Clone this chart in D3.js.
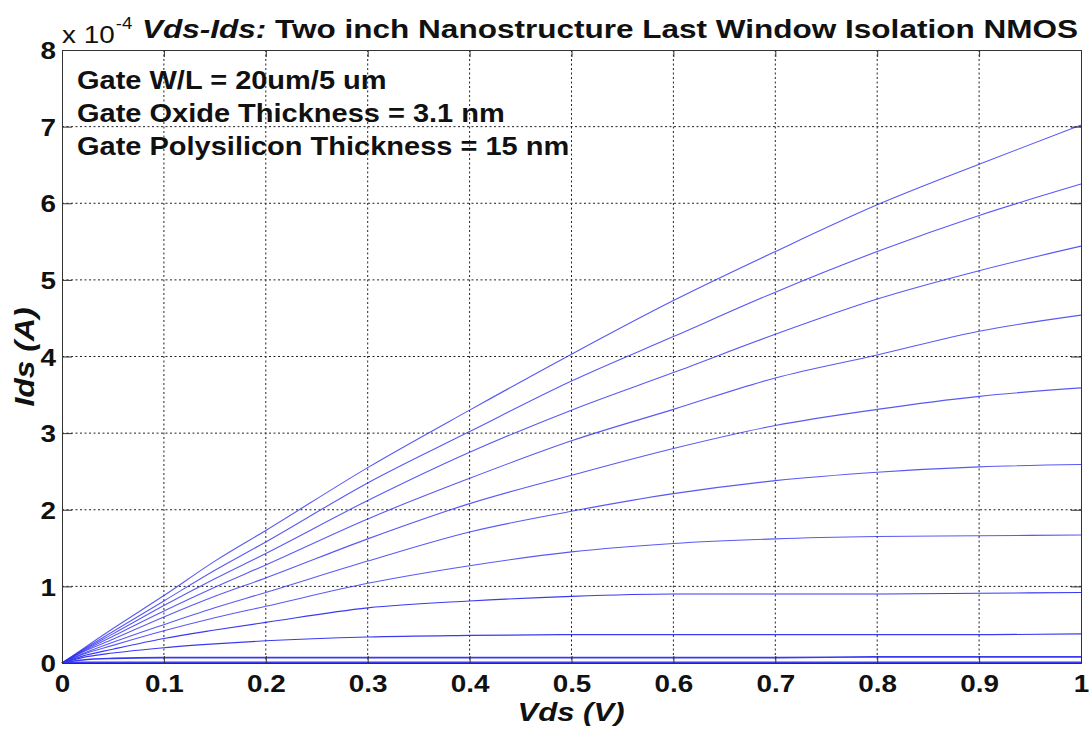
<!DOCTYPE html>
<html>
<head>
<meta charset="utf-8">
<script src="https://cdn.jsdelivr.net/npm/d3@7"></script>
<style>
  body { margin: 0; background: #fff; }
  svg text { font-family: Arial, "Liberation Sans", Helvetica, sans-serif; fill: #111; }
</style>
</head>
<body>
<div id="chart"></div>
<script>
// Vds sweep (V)
const vds = [0, 0.02, 0.05, 0.1, 0.15, 0.2, 0.3, 0.4, 0.5, 0.6, 0.7, 0.8, 0.9, 1.0];

// Ids curves, in units of 1e-4 A, top curve first
const idsCurve1  = [0, 0.18, 0.45, 0.88, 1.33, 1.73, 2.55, 3.30, 4.03, 4.73, 5.37, 5.98, 6.51, 7.02];
const idsCurve2  = [0, 0.17, 0.41, 0.81, 1.21, 1.58, 2.35, 3.02, 3.68, 4.26, 4.84, 5.37, 5.84, 6.25];
const idsCurve3  = [0, 0.16, 0.38, 0.75, 1.10, 1.43, 2.12, 2.75, 3.30, 3.79, 4.29, 4.75, 5.12, 5.44];
const idsCurve4  = [0, 0.15, 0.35, 0.68, 0.99, 1.28, 1.88, 2.41, 2.90, 3.31, 3.72, 4.02, 4.33, 4.54];
const idsCurve5  = [0, 0.14, 0.31, 0.60, 0.87, 1.11, 1.62, 2.08, 2.45, 2.80, 3.10, 3.31, 3.48, 3.59];
const idsCurve6  = [0, 0.12, 0.27, 0.50, 0.72, 0.92, 1.33, 1.71, 1.98, 2.21, 2.38, 2.49, 2.56, 2.59];
const idsCurve7  = [0, 0.11, 0.23, 0.42, 0.59, 0.74, 1.04, 1.27, 1.45, 1.56, 1.62, 1.65, 1.66, 1.67];
const idsCurve8  = [0, 0.09, 0.18, 0.32, 0.43, 0.53, 0.72, 0.81, 0.87, 0.90, 0.90, 0.90, 0.91, 0.92];
const idsCurve9  = [0, 0.07, 0.13, 0.20, 0.25, 0.29, 0.34, 0.36, 0.37, 0.37, 0.37, 0.37, 0.37, 0.38];
const idsCurve10 = [0, 0.04, 0.06, 0.07, 0.07, 0.07, 0.07, 0.07, 0.07, 0.07, 0.07, 0.08, 0.08, 0.08];
const idsCurve11 = [0, 0.01, 0.01, 0.01, 0.01, 0.01, 0.01, 0.01, 0.01, 0.01, 0.01, 0.01, 0.01, 0.01];
const curves = [idsCurve1, idsCurve2, idsCurve3, idsCurve4, idsCurve5, idsCurve6,
                idsCurve7, idsCurve8, idsCurve9, idsCurve10, idsCurve11];

// tick labels
const xTicks = [0, 0.1, 0.2, 0.3, 0.4, 0.5, 0.6, 0.7, 0.8, 0.9, 1];
const yTicks = [0, 1, 2, 3, 4, 5, 6, 7, 8];

const titleItalic = "Vds-Ids:";
const titleRest = " Two inch Nanostructure Last Window Isolation NMOS";
const notes = ["Gate W/L = 20um/5 um", "Gate Oxide Thickness = 3.1 nm", "Gate Polysilicon Thickness = 15 nm"];

// sizes
var width = 1091;
var height = 734;
var plot = { left: 62, right: 1081, top: 50, bottom: 663 };
var stretch = 1.16; // original text is a bit wide

var svg = d3.select("#chart")
  .append("svg")
  .attr("width", width)
  .attr("height", height);

const x = d3.scaleLinear().domain([0, 1]).range([plot.left, plot.right]);
const y = d3.scaleLinear().domain([0, 8]).range([plot.bottom, plot.top]);

// dotted grid
svg.append("g")
  .selectAll("line")
  .data(xTicks.slice(1, -1))
  .join("line")
  .attr("x1", d => x(d)).attr("x2", d => x(d))
  .attr("y1", plot.top).attr("y2", plot.bottom)
  .attr("stroke", "#222").attr("stroke-dasharray", "2,2.5");
svg.append("g")
  .selectAll("line")
  .data(yTicks.slice(1, -1))
  .join("line")
  .attr("y1", d => y(d)).attr("y2", d => y(d))
  .attr("x1", plot.left).attr("x2", plot.right)
  .attr("stroke", "#222").attr("stroke-dasharray", "2,2.5");

// curves
const line = d3.line()
  .x((d, i) => x(vds[i]))
  .y(d => y(d))
  .curve(d3.curveMonotoneX);

svg.append("g")
  .selectAll("path")
  .data(curves)
  .join("path")
  .attr("d", line)
  .attr("fill", "none")
  .attr("stroke", "#2f2ff0")
  .attr("stroke-width", (d, i) => i >= 9 ? 1.6 : 1.1)
  .attr("stroke-opacity", (d, i) => i >= 7 ? 0.95 : 0.8);

// axes, MATLAB style ticks inside
const xAxis = d3.axisBottom(x).tickValues(xTicks).tickFormat(d3.format("")).tickSize(-7).tickPadding(10);
const yAxis = d3.axisLeft(y).tickValues(yTicks).tickFormat(d3.format("")).tickSize(-10).tickPadding(6);

const gx = svg.append("g")
  .attr("transform", `translate(0, ${plot.bottom})`)
  .call(xAxis);
const gy = svg.append("g")
  .attr("transform", `translate(${plot.left}, 0)`)
  .call(yAxis);

// top and right ticks
svg.append("g")
  .attr("transform", `translate(0, ${plot.top})`)
  .call(d3.axisTop(x).tickValues(xTicks).tickSize(-7).tickFormat(""));
svg.append("g")
  .attr("transform", `translate(${plot.right}, 0)`)
  .call(d3.axisRight(y).tickValues(yTicks).tickSize(-10).tickFormat(""));

svg.selectAll(".domain").attr("stroke", "#333");
svg.selectAll(".tick line").attr("stroke", "#333");

gx.selectAll("text")
  .attr("font-size", 24).attr("font-weight", "bold")
  .attr("dy", "0.8em")
  .attr("transform", `scale(${stretch},1)`);
gy.selectAll("text")
  .attr("font-size", 24).attr("font-weight", "bold")
  .attr("dy", "0.36em")
  .attr("x", -6 / stretch)
  .attr("transform", `scale(${stretch},1)`);

// exponent
var expo = svg.append("text")
  .attr("transform", `translate(62, 43) scale(${stretch},1)`)
  .attr("font-size", 24);
expo.append("tspan").text("x 10");
expo.append("tspan").attr("font-size", 16).attr("dy", -14).attr("dx", 1).text("-4");

// title
var title = svg.append("text")
  .attr("x", 142).attr("y", 38)
  .attr("font-size", 26).attr("font-weight", "bold")
  .attr("textLength", 936).attr("lengthAdjust", "spacingAndGlyphs");
title.append("tspan").attr("font-style", "italic").text(titleItalic);
title.append("tspan").text(titleRest);

// notes
svg.append("g")
  .selectAll("text")
  .data(notes)
  .join("text")
  .attr("transform", (d, i) => `translate(77, ${89 + i * 33}) scale(${stretch},1)`)
  .attr("font-size", 25).attr("font-weight", "bold")
  .text(d => d);

// axis labels
svg.append("text")
  .attr("x", 571).attr("y", 721)
  .attr("text-anchor", "middle")
  .attr("font-size", 26).attr("font-weight", "bold").attr("font-style", "italic")
  .attr("textLength", 107).attr("lengthAdjust", "spacingAndGlyphs")
  .text("Vds (V)");
svg.append("text")
  .attr("transform", "translate(34, 357) rotate(-90)")
  .attr("text-anchor", "middle")
  .attr("font-size", 27).attr("font-weight", "bold").attr("font-style", "italic")
  .attr("textLength", 99).attr("lengthAdjust", "spacingAndGlyphs")
  .text("Ids (A)");
</script>
</body>
</html>
